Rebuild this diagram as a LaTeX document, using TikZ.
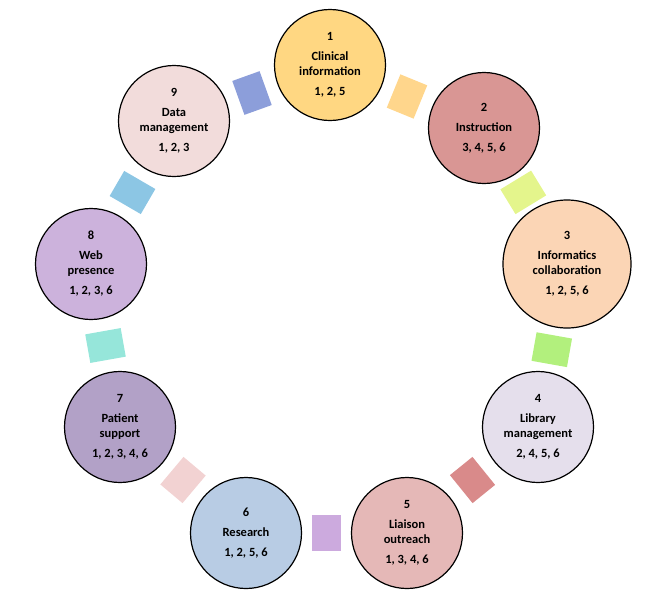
\documentclass[tikz,border=0pt]{standalone}
\usepackage{fontspec}
\setmainfont{Carlito}
\usetikzlibrary{positioning}
\definecolor{cOne}{RGB}{255,215,130}
\definecolor{cTwo}{RGB}{217,150,148}
\definecolor{cThree}{RGB}{251,213,181}
\definecolor{cFour}{RGB}{229,223,236}
\definecolor{cFive}{RGB}{229,184,183}
\definecolor{cSix}{RGB}{184,204,228}
\definecolor{cSeven}{RGB}{178,161,199}
\definecolor{cEight}{RGB}{204,178,220}
\definecolor{cNine}{RGB}{242,220,219}
\definecolor{lOne}{RGB}{255,214,140}
\definecolor{lTwo}{RGB}{228,245,140}
\definecolor{lThree}{RGB}{178,240,125}
\definecolor{lFour}{RGB}{217,138,138}
\definecolor{lFive}{RGB}{204,170,222}
\definecolor{lSix}{RGB}{242,210,210}
\definecolor{lSeven}{RGB}{150,230,218}
\definecolor{lEight}{RGB}{140,198,228}
\definecolor{lNine}{RGB}{140,158,218}
\tikzset{
  area/.style={circle, draw=black, line width=1.2pt, minimum size=111pt,
               inner sep=0pt, align=center,
               font=\bfseries\fontsize{12.5}{15}\selectfont},
  link/.style={rectangle, sloped, minimum width=29pt, minimum height=36pt,
               inner sep=0pt},
}

\begin{document}
\begin{tikzpicture}[x=1pt, y=-1pt]
\useasboundingbox (0,0) rectangle (668,600);
\node[area, fill=cOne]   (clin) at (330,65)  {1\\[5pt]Clinical\\information\\[5pt]1, 2, 5};
\node[area, fill=cTwo]   (inst) at (484,128) {2\\[5pt]Instruction\\[5pt]3, 4, 5, 6};
\node[area, fill=cThree, minimum size=128pt] (info) at (567,264)
  {3\\[5pt]Informatics\\collaboration\\[5pt]1, 2, 5, 6};
\node[area, fill=cFour]  (libm) at (538,427) {4\\[5pt]Library\\management\\[5pt]2, 4, 5, 6};
\node[area, fill=cFive]  (liai) at (407,533) {5\\[5pt]Liaison\\outreach\\[5pt]1, 3, 4, 6};
\node[area, fill=cSix]   (rese) at (246,533) {6\\[5pt]Research\\[5pt]1, 2, 5, 6};
\node[area, fill=cSeven] (pati) at (120,427) {7\\[5pt]Patient\\support\\[5pt]1, 2, 3, 4, 6};
\node[area, fill=cEight] (webp) at (91,264)  {8\\[5pt]Web\\presence\\[5pt]1, 2, 3, 6};
\node[area, fill=cNine]  (data) at (174,121) {9\\[5pt]Data\\management\\[5pt]1, 2, 3};

% small blocks between neighbours
\path (clin) -- node[link, fill=lOne]   {} (inst);
\path (inst) -- node[link, fill=lTwo]   {} (info);
\path (info) -- node[link, fill=lThree] {} (libm);
\path (libm) -- node[link, fill=lFour]  {} (liai);
\path (liai) -- node[link, fill=lFive]  {} (rese);
\path (rese) -- node[link, fill=lSix]   {} (pati);
\path (pati) -- node[link, fill=lSeven] {} (webp);
\path (webp) -- node[link, fill=lEight] {} (data);
\path (data) -- node[link, fill=lNine]  {} (clin);
\end{tikzpicture}
\end{document}
